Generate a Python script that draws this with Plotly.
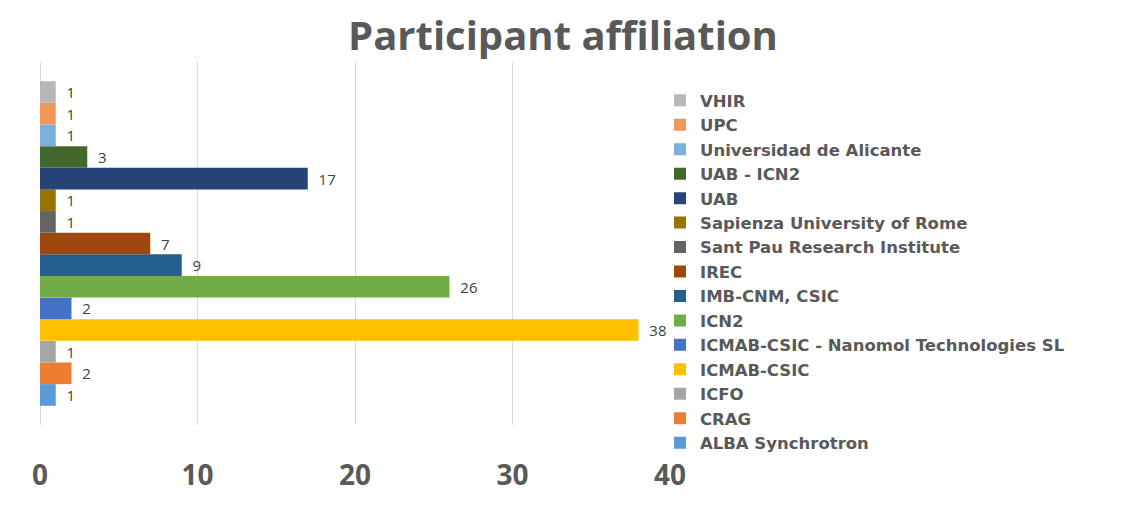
import plotly.graph_objects as go

# Series (bottom to top in plot order)
names = ["ALBA Synchrotron", "CRAG", "ICFO", "ICMAB-CSIC",
         "ICMAB-CSIC - Nanomol Technologies SL", "ICN2", "IMB-CNM, CSIC",
         "IREC", "Sant Pau Research Institute", "Sapienza University of Rome",
         "UAB", "UAB - ICN2", "Universidad de Alicante", "UPC", "VHIR"]
values = [1, 2, 1, 38, 2, 26, 9, 7, 1, 1, 17, 3, 1, 1, 1]
colors = ["#5B9BD5", "#ED7D31", "#A5A5A5", "#FFC000", "#4472C4", "#70AD47",
          "#255E91", "#9E480E", "#636363", "#997300", "#264478", "#43682B",
          "#7CAFDD", "#F1975A", "#B7B7B7"]
category = [""]
x_ticks = [0, 10, 20, 30, 40]

label_font = dict(family="Open Sans", size=15, color="#404040")

fig = go.Figure()
for n, v, c in zip(names, values, colors):
    fig.add_trace(go.Bar(
        y=category, x=[v], name=n, orientation="h",
        marker=dict(color=c, line=dict(width=0)),
        text=[v], texttemplate="  %{x}", textposition="outside",
        textfont=label_font, outsidetextfont=label_font,
        constraintext="none", cliponaxis=False,
    ))

fig.update_layout(
    width=1126, height=505,
    paper_bgcolor="white", plot_bgcolor="white",
    margin=dict(l=40, r=456, t=62, b=65),
    barmode="group", bargap=0.106, bargroupgap=0,
    title=dict(text="<b>Participant affiliation</b>", x=0.5, xanchor="center",
               y=1 - 36 / 505, yanchor="middle", yref="container",
               font=dict(family="Open Sans", size=40, color="#595959")),
    xaxis=dict(range=[0, 40], tickvals=x_ticks, showgrid=True,
               gridcolor="#D9D9D9", gridwidth=1, zeroline=True,
               zerolinecolor="#D9D9D9", zerolinewidth=1, showline=False,
               ticks="", ticklabelstandoff=31,
               tickfont=dict(family="Open Sans", size=28, color="#595959", weight="bold")),
    yaxis=dict(showticklabels=False, showgrid=False, zeroline=False, showline=False),
    legend=dict(x=(660 - 40) / 630, xanchor="left", y=(440 - 84) / 378, yanchor="top",
                traceorder="reversed", itemwidth=30, bgcolor="rgba(0,0,0,0)",
                maxheight=430,
                font=dict(family="DejaVu Sans", size=16.5, color="#595959", weight="bold")),
    showlegend=True,
)

fig.write_html("out.html")
